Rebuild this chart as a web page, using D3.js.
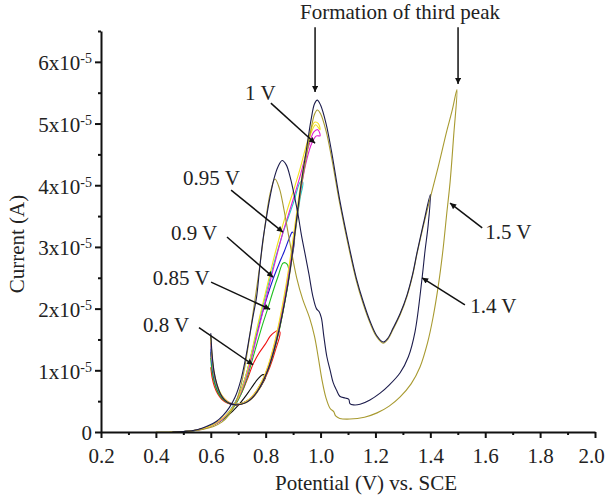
<!DOCTYPE html>
<html>
<head>
<meta charset="utf-8">
<script src="https://cdn.jsdelivr.net/npm/d3@7"></script>
<style>
body { margin: 0; background: #fff; }
svg text { font-family: "Liberation Serif", "Times New Roman", serif; fill: #222; }
</style>
</head>
<body>
<div id="chart"></div>
<script>
// axis ticks
var xMajor = [0.2, 0.4, 0.6, 0.8, 1.0, 1.2, 1.4, 1.6, 1.8, 2.0];
var xMinor = [0.3, 0.5, 0.7, 0.9, 1.1, 1.3, 1.5, 1.7, 1.9];
var yMajor = [0, 1, 2, 3, 4, 5, 6];           // x10^-5 A
var yMinor = [0.5, 1.5, 2.5, 3.5, 4.5, 5.5, 6.5];

// cyclic voltammograms, [potential V, current x10^-5 A], in scan order
var cvBlack = [[0.600,1.30],[0.605,1.02],[0.613,0.82],[0.625,0.66],[0.640,0.55],[0.660,0.48],[0.685,0.45],[0.710,0.46],[0.735,0.51],[0.755,0.58],[0.775,0.69],[0.790,0.80],[0.800,0.90],
  [0.790,0.93],[0.772,0.86],[0.755,0.76],[0.738,0.65],[0.720,0.54],[0.700,0.43],[0.680,0.34],[0.655,0.24],[0.630,0.16],[0.600,0.10],[0.570,0.055],[0.540,0.025],[0.505,0.008],[0.470,0.0]];

var cvRed = [[0.600,1.05],[0.605,0.88],[0.613,0.74],[0.625,0.62],[0.640,0.53],[0.660,0.47],[0.685,0.44],[0.710,0.45],[0.735,0.50],[0.755,0.57],[0.775,0.69],[0.795,0.85],[0.815,1.05],[0.835,1.32],[0.852,1.62],
  [0.842,1.64],[0.830,1.61],[0.816,1.55],[0.798,1.42],[0.776,1.28],[0.754,1.10],[0.737,0.90],[0.720,0.71],[0.702,0.55],[0.683,0.41],[0.660,0.29],[0.635,0.19],[0.605,0.11],[0.575,0.06],[0.545,0.028],[0.510,0.01],[0.470,0.0]];

var cvGreen = [[0.600,1.20],[0.605,0.97],[0.613,0.80],[0.625,0.65],[0.640,0.55],[0.660,0.48],[0.685,0.45],[0.710,0.46],[0.733,0.50],[0.753,0.57],[0.773,0.69],[0.793,0.85],[0.813,1.06],[0.833,1.35],[0.853,1.72],[0.870,2.12],[0.885,2.55],
  [0.878,2.72],[0.864,2.74],[0.845,2.52],[0.826,2.27],[0.809,2.02],[0.790,1.76],[0.770,1.46],[0.750,1.15],[0.731,0.86],[0.711,0.62],[0.691,0.45],[0.668,0.31],[0.643,0.20],[0.613,0.12],[0.580,0.06],[0.548,0.028],[0.512,0.01],[0.470,0.0]];

var cvBlue = [[0.600,1.35],[0.605,1.08],[0.613,0.86],[0.625,0.69],[0.640,0.57],[0.660,0.49],[0.685,0.45],[0.710,0.46],[0.732,0.50],[0.752,0.57],[0.772,0.69],[0.792,0.85],[0.812,1.07],[0.832,1.36],[0.852,1.73],[0.872,2.18],[0.890,2.68],[0.905,3.15],
  [0.897,3.24],[0.886,3.14],[0.868,2.93],[0.848,2.72],[0.827,2.48],[0.806,2.20],[0.786,1.90],[0.766,1.57],[0.746,1.22],[0.727,0.90],[0.707,0.64],[0.687,0.46],[0.664,0.31],[0.640,0.20],[0.610,0.12],[0.578,0.06],[0.545,0.027],[0.510,0.01],[0.465,0.0]];

var cvCyan = [[0.600,1.40],[0.605,1.12],[0.613,0.89],[0.625,0.70],[0.640,0.58],[0.660,0.49],[0.685,0.45],[0.710,0.46],[0.731,0.50],[0.751,0.57],[0.771,0.69],[0.791,0.85],[0.811,1.07],[0.831,1.37],[0.851,1.75],[0.871,2.20],[0.891,2.74],[0.911,3.36],[0.925,3.78],[0.935,4.05],
  [0.926,4.05],[0.906,3.78],[0.886,3.52],[0.864,3.24],[0.841,2.90],[0.816,2.50],[0.792,2.08],[0.770,1.68],[0.750,1.30],[0.730,0.94],[0.709,0.66],[0.688,0.47],[0.665,0.32],[0.640,0.20],[0.610,0.12],[0.578,0.06],[0.545,0.027],[0.508,0.01],[0.465,0.0]];

var cvMagenta = [[0.600,1.45],[0.605,1.15],[0.613,0.91],[0.625,0.72],[0.640,0.59],[0.660,0.50],[0.685,0.45],[0.710,0.46],[0.730,0.50],[0.750,0.57],[0.770,0.69],[0.790,0.85],[0.810,1.07],[0.830,1.38],[0.850,1.76],[0.870,2.22],[0.890,2.76],[0.910,3.38],[0.930,3.98],[0.950,4.42],[0.968,4.68],[0.985,4.80],[0.998,4.80],
  [0.990,4.90],[0.975,4.86],[0.960,4.68],[0.943,4.44],[0.925,4.14],[0.905,3.84],[0.884,3.54],[0.862,3.22],[0.838,2.82],[0.812,2.36],[0.788,1.92],[0.766,1.52],[0.746,1.15],[0.726,0.84],[0.706,0.60],[0.685,0.43],[0.662,0.30],[0.638,0.19],[0.608,0.11],[0.575,0.055],[0.540,0.025],[0.505,0.008],[0.460,0.0]];

var cvYellow = [[0.600,1.55],[0.605,1.22],[0.613,0.95],[0.625,0.74],[0.640,0.60],[0.660,0.50],[0.685,0.45],[0.710,0.46],[0.729,0.50],[0.749,0.57],[0.769,0.69],[0.789,0.85],[0.809,1.08],[0.829,1.39],[0.849,1.78],[0.869,2.25],[0.889,2.80],[0.909,3.43],[0.929,4.06],[0.948,4.55],[0.965,4.84],[0.982,4.98],[0.998,4.90],
  [0.992,5.00],[0.978,5.02],[0.962,4.85],[0.944,4.58],[0.925,4.26],[0.904,3.95],[0.880,3.62],[0.856,3.25],[0.831,2.84],[0.806,2.38],[0.782,1.94],[0.760,1.52],[0.740,1.12],[0.720,0.80],[0.700,0.56],[0.680,0.40],[0.657,0.28],[0.632,0.18],[0.603,0.10],[0.570,0.05],[0.535,0.022],[0.500,0.007],[0.450,0.0]];

var cvOlive = [[0.600,1.55],[0.605,1.20],[0.612,0.94],[0.622,0.75],[0.635,0.61],[0.650,0.52],[0.670,0.46],[0.690,0.44],[0.710,0.45],[0.730,0.48],[0.750,0.54],[0.770,0.65],[0.790,0.81],[0.810,1.02],[0.830,1.31],[0.850,1.67],[0.870,2.11],[0.890,2.63],[0.910,3.30],[0.930,3.98],[0.950,4.50],[0.965,4.90],[0.978,5.15],[0.988,5.22],[1.000,5.16],[1.020,4.88],[1.040,4.45],[1.070,3.70],[1.107,2.90],[1.130,2.46],[1.155,2.08],[1.180,1.77],[1.205,1.54],[1.228,1.44],[1.245,1.50],[1.264,1.66],[1.290,1.90],[1.315,2.20],[1.335,2.53],[1.352,2.90],[1.375,3.35],[1.400,3.80],[1.430,4.32],[1.460,4.88],[1.480,5.22],[1.497,5.55],
  [1.485,4.80],[1.472,4.05],[1.460,3.55],[1.446,2.95],[1.430,2.40],[1.410,1.86],[1.390,1.45],[1.362,1.05],[1.330,0.78],[1.290,0.57],[1.250,0.42],[1.206,0.31],[1.160,0.24],[1.107,0.21],[1.070,0.22],[1.055,0.26],[1.048,0.33],[1.035,0.38],[1.020,0.55],[1.005,0.85],[0.992,1.20],[0.978,1.55],[0.960,1.85],[0.935,2.15],[0.913,2.50],[0.889,3.05],[0.866,3.62],[0.850,3.95],[0.834,4.10],[0.818,3.90],[0.804,3.55],[0.792,3.15],[0.780,2.74],[0.767,2.33],[0.754,1.93],[0.740,1.50],[0.725,1.08],[0.708,0.72],[0.688,0.45],[0.665,0.27],[0.640,0.16],[0.610,0.09],[0.570,0.04],[0.530,0.015],[0.480,0.005],[0.400,0.0]];

var cvNavy = [[0.600,1.60],[0.605,1.25],[0.612,0.98],[0.622,0.78],[0.635,0.62],[0.650,0.52],[0.670,0.46],[0.690,0.44],[0.710,0.45],[0.730,0.48],[0.750,0.55],[0.770,0.66],[0.790,0.82],[0.810,1.03],[0.830,1.32],[0.850,1.68],[0.870,2.12],[0.890,2.65],[0.910,3.35],[0.930,4.05],[0.950,4.62],[0.965,5.05],[0.978,5.32],[0.988,5.38],[1.000,5.30],[1.020,5.00],[1.040,4.55],[1.070,3.76],[1.107,2.95],[1.130,2.50],[1.155,2.12],[1.180,1.80],[1.205,1.56],[1.228,1.46],[1.245,1.52],[1.264,1.68],[1.290,1.92],[1.315,2.22],[1.335,2.55],[1.352,2.92],[1.375,3.38],[1.400,3.85],
  [1.392,3.35],[1.381,2.95],[1.369,2.46],[1.344,1.62],[1.320,1.22],[1.290,0.96],[1.250,0.76],[1.217,0.63],[1.180,0.52],[1.144,0.45],[1.120,0.44],[1.107,0.46],[1.103,0.53],[1.090,0.55],[1.070,0.58],[1.058,0.68],[1.046,0.80],[1.035,1.00],[1.023,1.22],[1.012,1.55],[1.003,1.85],[0.995,1.95],[0.985,2.00],[0.972,2.20],[0.958,2.55],[0.943,2.90],[0.930,3.20],[0.919,3.50],[0.905,3.82],[0.890,4.12],[0.875,4.33],[0.860,4.40],[0.845,4.30],[0.830,4.10],[0.816,3.81],[0.803,3.48],[0.790,3.11],[0.778,2.65],[0.767,2.19],[0.755,1.90],[0.743,1.60],[0.728,1.22],[0.710,0.85],[0.690,0.58],[0.668,0.40],[0.645,0.27],[0.620,0.17],[0.590,0.10],[0.560,0.05],[0.530,0.02],[0.500,0.008],[0.460,0.0]];

// arrow labels: text, text anchor point and arrow start / tip, all in data units
var notes = [
  { text: "1 V",    at: [0.725, 5.38], from: [0.819, 5.33], to: [0.980, 4.68] },
  { text: "0.95 V", at: [0.499, 4.00], from: [0.674, 3.92], to: [0.863, 3.24] },
  { text: "0.9 V",  at: [0.455, 3.11], from: [0.659, 3.16], to: [0.827, 2.51] },
  { text: "0.85 V", at: [0.389, 2.38], from: [0.601, 2.43], to: [0.816, 1.99] },
  { text: "0.8 V",  at: [0.353, 1.62], from: [0.557, 1.69], to: [0.754, 1.09] },
  { text: "1.4 V",  at: [1.545, 1.93], from: [1.526, 2.06], to: [1.370, 2.50] },
  { text: "1.5 V",  at: [1.600, 3.13], from: [1.589, 3.31], to: [1.472, 3.71] }
];
var peakNote = "Formation of third peak";
var peakArrows = [[0.980, 6.56, 5.51], [1.501, 6.56, 5.64]];

var width = 605;
var height = 501;

var svg = d3.select("#chart")
    .append("svg")
    .attr("width", width)
    .attr("height", height);

var x = d3.scaleLinear().domain([0.2, 2.0]).range([101, 595]);
var y = d3.scaleLinear().domain([0, 6.5]).range([432, 31]);

//Arrow head
svg.append("defs").append("marker")
    .attr("id", "head")
    .attr("viewBox", "0 0 10 10")
    .attr("refX", 10)
    .attr("refY", 5)
    .attr("markerWidth", 9)
    .attr("markerHeight", 6)
    .attr("markerUnits", "userSpaceOnUse")
    .attr("orient", "auto")
    .append("path")
    .attr("d", "M0,0 L10,5 L0,10 z")
    .attr("fill", "#111");

//Curves
var series = [
    { data: cvBlack, color: "#111111" },
    { data: cvRed, color: "#f01010" },
    { data: cvGreen, color: "#20c020" },
    { data: cvBlue, color: "#1a1ad0" },
    { data: cvCyan, color: "#20cccc" },
    { data: cvMagenta, color: "#e020d0" },
    { data: cvYellow, color: "#f2e020" },
    { data: cvOlive, color: "#a89a30" },
    { data: cvNavy, color: "#1c1c4c" }
];

var line = d3.line()
    .x(function(d) { return x(d[0]); })
    .y(function(d) { return y(d[1]); })
    .curve(d3.curveCatmullRom.alpha(0.5));

svg.append("g").selectAll("path")
    .data(series)
    .enter()
    .append("path")
    .attr("d", function(d) { return line(d.data); })
    .attr("fill", "none")
    .attr("stroke", function(d) { return d.color; })
    .attr("stroke-width", 1.1);

//Axes
var fontSize = 21;

var xAxis = svg.append("g")
    .attr("transform", "translate(0,432)")
    .call(d3.axisBottom(x).tickValues(xMajor).tickSize(6).tickSizeOuter(0).tickPadding(10)
        .tickFormat(d3.format(".1f")));
svg.append("g")
    .attr("transform", "translate(0,432)")
    .call(d3.axisBottom(x).tickValues(xMinor).tickSize(3).tickSizeOuter(0).tickFormat(""))
    .call(function(g) { g.select(".domain").remove(); });

var yAxis = svg.append("g")
    .attr("transform", "translate(101,0)")
    .call(d3.axisLeft(y).tickValues(yMajor).tickSize(6).tickSizeOuter(0).tickPadding(3));
svg.append("g")
    .attr("transform", "translate(101,0)")
    .call(d3.axisLeft(y).tickValues(yMinor).tickSize(3).tickSizeOuter(0).tickFormat(""))
    .call(function(g) { g.select(".domain").remove(); });

svg.selectAll(".domain").attr("stroke", "#111").attr("stroke-width", 2);
svg.selectAll(".tick line").attr("stroke", "#111").attr("stroke-width", 2);
svg.selectAll(".tick text")
    .attr("font-family", null)
    .attr("font-size", fontSize)
    .attr("fill", "#222");

// last x label sits against the right edge
xAxis.selectAll(".tick text")
    .filter(function(d) { return d === 2.0; })
    .attr("dx", -4);

yAxis.selectAll(".tick text")
    .attr("dy", "0.38em")
    .each(function(d) {
        var t = d3.select(this);
        t.text(null);
        if (d === 0) {
            t.text("0");
        } else {
            t.append("tspan").text(d + "x10");
            t.append("tspan").attr("dy", "-0.5em").attr("font-size", 14).text("-5");
        }
    });

//Axis titles
svg.append("text")
    .attr("x", 366)
    .attr("y", 490)
    .attr("text-anchor", "middle")
    .attr("font-size", fontSize)
    .text("Potential (V) vs. SCE");

svg.append("text")
    .attr("transform", "translate(24,244) rotate(-90)")
    .attr("text-anchor", "middle")
    .attr("font-size", fontSize)
    .text("Current (A)");

//Annotations
var ann = svg.append("g");
ann.selectAll("line.note")
    .data(notes)
    .enter()
    .append("line")
    .attr("class", "note")
    .attr("x1", function(d) { return x(d.from[0]); })
    .attr("y1", function(d) { return y(d.from[1]); })
    .attr("x2", function(d) { return x(d.to[0]); })
    .attr("y2", function(d) { return y(d.to[1]); })
    .attr("stroke", "#111")
    .attr("stroke-width", 1.5)
    .attr("marker-end", "url(#head)");

ann.selectAll("text.note")
    .data(notes)
    .enter()
    .append("text")
    .attr("class", "note")
    .attr("x", function(d) { return x(d.at[0]); })
    .attr("y", function(d) { return y(d.at[1]); })
    .attr("font-size", fontSize)
    .text(function(d) { return d.text; });

ann.append("text")
    .attr("x", 400)
    .attr("y", 19)
    .attr("text-anchor", "middle")
    .attr("font-size", fontSize)
    .text(peakNote);

ann.selectAll("line.peak")
    .data(peakArrows)
    .enter()
    .append("line")
    .attr("class", "peak")
    .attr("x1", function(d) { return x(d[0]); })
    .attr("x2", function(d) { return x(d[0]); })
    .attr("y1", function(d) { return y(d[1]); })
    .attr("y2", function(d) { return y(d[2]); })
    .attr("stroke", "#111")
    .attr("stroke-width", 1.5)
    .attr("marker-end", "url(#head)");
</script>
</body>
</html>
